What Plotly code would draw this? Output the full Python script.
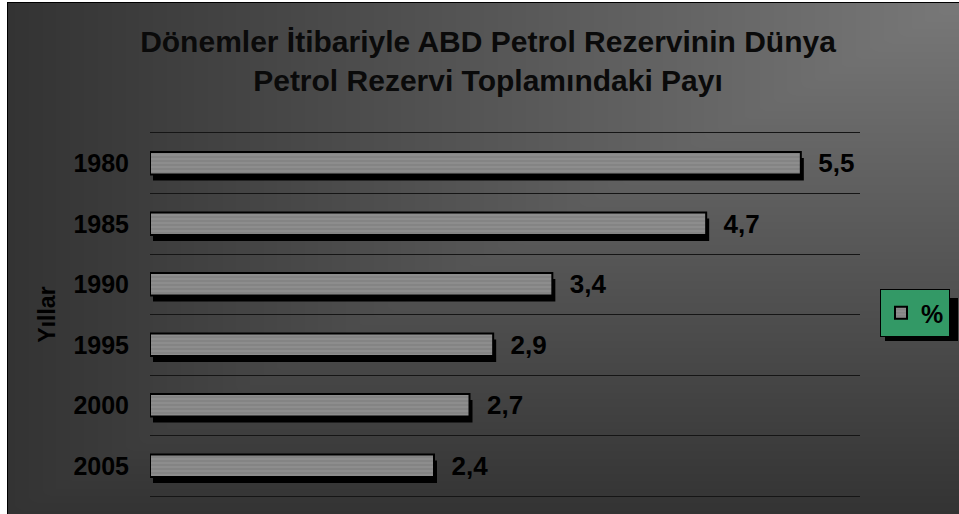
import numpy as np
import plotly.graph_objects as go

# ---- data ----
years = ["1980", "1985", "1990", "1995", "2000", "2005"]
share_pct = [5.5, 4.7, 3.4, 2.9, 2.7, 2.4]
series_name = "%"
title_text = "Dönemler İtibariyle ABD Petrol Rezervinin Dünya<br>Petrol Rezervi Toplamındaki Payı"
axis_title = "Yıllar"

W, H = 959, 514
FONT = "Liberation Sans, Arial, sans-serif"

# ---- background gradient (decorative, light at top-right corner) ----
n = 60
gx = np.linspace(0, 1, n)
gy = np.linspace(0, 1, n)
GX, GY = np.meshgrid(gx, gy)
u = 1 - GX
v = GY
bg = 1 - np.maximum(u, v)

fig = go.Figure()
fig.add_trace(go.Heatmap(
    x=gx, y=gy, z=bg, zmin=0, zmax=1, zsmooth="best",
    colorscale=[[0, "#333333"], [1, "#787878"]],
    showscale=False, hoverinfo="skip", xaxis="x", yaxis="y",
))

# plot geometry (pixels)
px_l, px_r, px_t, px_b = 150, 860, 133, 496
x_max = 6.0
unit_px = (px_r - px_l) / x_max
n_cat = len(years)
row_px = (px_b - px_t) / n_cat
bar_w = 0.37
shadow_dx = 3 / unit_px
shadow_dy = 6 / row_px

# shadow bars
fig.add_trace(go.Bar(
    y=years, x=share_pct, base=[shadow_dx] * n_cat, orientation="h",
    width=bar_w, offset=-bar_w / 2 + shadow_dy,
    marker=dict(color="#000000", line=dict(width=0)),
    showlegend=False, hoverinfo="skip", xaxis="x2", yaxis="y2",
))
# main bars
fig.add_trace(go.Bar(
    y=years, x=share_pct, orientation="h", name=series_name,
    width=bar_w,
    marker=dict(
        color="#898989",
        line=dict(color="#000000", width=2),
        pattern=dict(shape="-", fgcolor="#9a9a9a", bgcolor="#848484",
                     size=4, solidity=0.45),
    ),
    texttemplate="\u00a0\u00a0%{x:.1f}", textposition="outside",
    constraintext="none", cliponaxis=False,
    textfont=dict(family=FONT, size=26, color="#000000", weight="bold"),
    xaxis="x2", yaxis="y2",
))

fig.update_layout(
    width=W, height=H,
    margin=dict(l=0, r=0, t=0, b=0, autoexpand=False),
    paper_bgcolor="#ffffff",
    plot_bgcolor="rgba(0,0,0,0)",
    separators=",.",
    barmode="overlay",
    font=dict(family=FONT, color="#000000"),
    title=dict(
        text=title_text, x=488 / W, xanchor="center",
        y=1 - 52 / H, yanchor="middle", yref="container",
        font=dict(family=FONT, size=30, color="#0a0a0a", weight="bold"),
    ),
    xaxis=dict(domain=[8 / W, 1], range=[0, 1], visible=True,
               showgrid=False, zeroline=False, showticklabels=False,
               showline=True, linecolor="#000000", linewidth=1, mirror=True,
               fixedrange=True, automargin=False),
    yaxis=dict(domain=[0, 1 - 3 / H], range=[1, 0], showgrid=False,
               zeroline=False, showticklabels=False,
               showline=True, linecolor="#000000", linewidth=1, mirror=True,
               fixedrange=True, automargin=False),
    xaxis2=dict(domain=[px_l / W, px_r / W], range=[0, x_max], anchor="y2",
                showgrid=False, zeroline=False, showticklabels=False,
                showline=True, mirror=True, linecolor="#151515", linewidth=1,
                automargin=False),
    yaxis2=dict(domain=[1 - px_b / H, 1 - px_t / H], anchor="x2",
                type="category", range=[n_cat - 0.5, -0.5],
                tickson="boundaries", showgrid=True, gridcolor="#151515",
                gridwidth=1, ticks="", zeroline=False, showline=False,
                ticklabelstandoff=20, automargin=False,
                tickfont=dict(family=FONT, size=25, color="#000000", weight="bold"),
                title=dict(text=axis_title, standoff=11,
                           font=dict(family=FONT, size=23, color="#000000", weight="bold"))),
    legend=dict(
        x=880 / W, xanchor="left", y=1 - 313 / H, yanchor="middle",
        bgcolor="#339966", bordercolor="#000000", borderwidth=1,
        font=dict(family=FONT, size=25, color="#000000", weight="bold"),
        itemwidth=30,
    ),
    shapes=[dict(type="rect", xref="paper", yref="paper",
                 x0=885 / W, x1=958 / W, y0=1 - 341 / H, y1=1 - 298 / H,
                 fillcolor="#000000", line=dict(width=0), layer="above")],
)

fig.write_html(
    "out.html",
    config={"displayModeBar": False},
    post_script="document.body.style.margin='0';document.body.style.overflow='hidden';",
)
